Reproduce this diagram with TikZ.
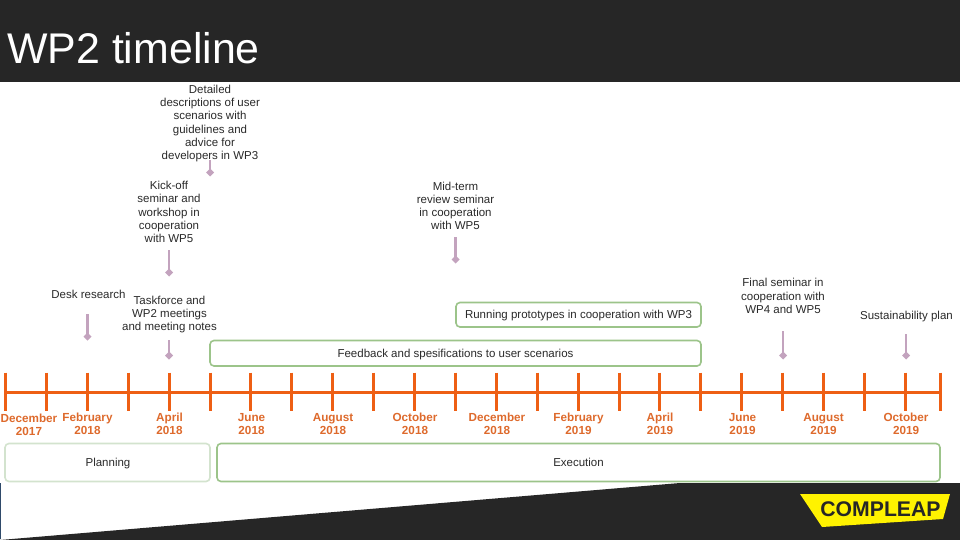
\documentclass[tikz,border=0pt]{standalone}
\usepackage{fontspec}
\setmainfont{Liberation Sans}
\usetikzlibrary{arrows.meta}
\definecolor{darkbar}{HTML}{262626}
\definecolor{tickor}{HTML}{EE5F14}
\definecolor{dateor}{HTML}{DE6A2C}
\definecolor{boxgreen}{HTML}{9CC48A}
\definecolor{palegreen}{HTML}{D3E3CE}
\definecolor{mauve}{HTML}{C3A3BE}
\definecolor{logoyellow}{HTML}{FFF200}
\definecolor{bodytext}{HTML}{2A2A2A}
\definecolor{edgeblue}{HTML}{2F4A6A}
\tikzset{
  lab/.style={align=center,font=\fontsize{11.5}{13.2}\selectfont,text=bodytext,inner sep=0pt},
  datelab/.style={align=center,font=\fontsize{11.7}{13}\selectfont\bfseries,text=dateor,inner sep=0pt},
  phase/.style={draw=boxgreen,line width=1.6pt,rounded corners=4pt,fill=white},
  ticku/.style={draw=tickor,line width=3pt},
  pin/.style={draw=mauve,line width=2.2pt,-{Diamond[length=8pt,width=8pt,fill=mauve]}},
}
\begin{document}
\begin{tikzpicture}[x=1pt,y=-1pt]
\useasboundingbox (0,0) rectangle (960,540);
\fill[white] (0,0) rectangle (960,540);
% header and footer
\fill[darkbar] (0,0) rectangle (960,82);
\node[anchor=west,inner sep=0pt,text=white,font=\fontsize{42.9}{46}\selectfont] (title) at (7,48) {WP2 timeline};
\fill[darkbar] (0,540) -- (680,483) -- (960,483) -- (960,540) -- cycle;
\fill[edgeblue] (0,483) rectangle (1.2,539);
% logo
\fill[logoyellow] (800,494) -- (950,494) -- (943,519) -- (822,527) -- cycle;
\node[inner sep=0pt,text=darkbar,font=\fontsize{21.2}{23}\selectfont\bfseries] (logo) at (880.5,509) {COMPLEAP};
% timeline
\coordinate (axisL) at (5,392);
\coordinate (axisR) at (940,392);
\draw[tickor,line width=3pt] (axisL) -- (axisR);
\foreach \i in {0,...,22}{
  \draw[ticku] ({5.5+40.9*\i},372.5) -- ({5.5+40.9*\i},410.5);
}
\draw[ticku] (940,372.5) -- (940,410.5);
% dates
\node[datelab] (d1) at (29,425.3) {December\\2017};
\node[datelab] (d2) at (87.5,423.5) {February\\2018};
\node[datelab] (d3) at (169.5,423.5) {April\\2018};
\node[datelab] (d4) at (251.5,424.2) {June\\2018};
\node[datelab] (d5) at (333,424.2) {August\\2018};
\node[datelab] (d6) at (415,423.5) {October\\2018};
\node[datelab] (d7) at (497,423.5) {December\\2018};
\node[datelab] (d8) at (578.5,423.5) {February\\2019};
\node[datelab] (d9) at (660,423.5) {April\\2019};
\node[datelab] (d10) at (742.5,424.2) {June\\2019};
\node[datelab] (d11) at (823.5,424.2) {August\\2019};
\node[datelab] (d12) at (906,423.5) {October\\2019};
% phases
\draw[draw=palegreen,line width=1.6pt,rounded corners=4pt] (5,443.5) rectangle (210,481.5);
\node[lab] (planning) at (108,464) {Planning};
\draw[phase] (217,443.5) rectangle (940,481.5);
\node[lab] (execution) at (578.5,462.5) {Execution};
\draw[phase] (210,340.5) rectangle (701,366);
\node[lab] (feedback) at (455.5,354.5) {Feedback and spesifications to user scenarios};
\draw[phase] (456,302.5) rectangle (701,327);
\node[lab] (running) at (578.5,316) {Running prototypes in cooperation with WP3};
% annotations
\node[lab] (detail) at (210,123.5) {Detailed\\descriptions of user\\scenarios with\\guidelines and\\advice for\\developers in WP3};
\node[lab] (kick) at (169,212) {Kick-off\\seminar and\\workshop in\\cooperation\\with WP5};
\node[lab] (desk) at (88.5,294) {Desk research};
\node[lab] (task) at (169.5,314.5) {Taskforce and\\WP2 meetings\\and meeting notes};
\node[lab] (mid) at (455.5,205.7) {Mid-term\\review seminar\\in cooperation\\with WP5};
\node[lab] (final) at (783,296) {Final seminar in\\cooperation with\\WP4 and WP5};
\node[lab] (sust) at (906.5,316.5) {Sustainability plan};
% pins
\coordinate (a1) at (210,160); \coordinate (b1) at (210,176.5);
\coordinate (a2) at (169,250); \coordinate (b2) at (169,276.5);
\coordinate (a3) at (87.5,314); \coordinate (b3) at (87.5,340.5);
\coordinate (a4) at (169,340); \coordinate (b4) at (169,359.5);
\coordinate (a5) at (455.5,237); \coordinate (b5) at (455.5,263.5);
\coordinate (a6) at (783,331); \coordinate (b6) at (783,359.5);
\coordinate (a7) at (906,334); \coordinate (b7) at (906,359.5);
\foreach \n in {1,...,7}{ \draw[pin] (a\n) -- (b\n); }
\end{tikzpicture}
\end{document}
